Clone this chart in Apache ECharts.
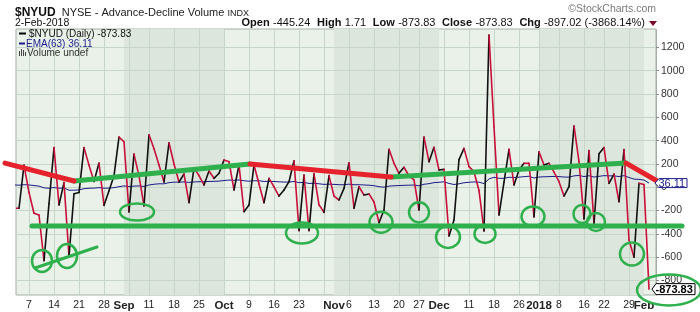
<!DOCTYPE html>
<html>
<head>
<meta charset="utf-8">
<script src="https://cdn.jsdelivr.net/npm/echarts@6/dist/echarts.min.js"></script>
<style>
html,body{margin:0;padding:0;background:#ffffff;}
#chart{width:700px;height:312px;}
</style>
</head>
<body>
<div id="chart"></div>
<script>
// ---------- data (index 0 = 2-Aug-2017, one entry per trading day, last = 2-Feb-2018) ----------
const nyud = [
  -180,-180,190,-45,-223,-238,-630,-140,340,-152,
  40,-590,-55,-45,340,190,50,208,-155,-30,
  100,431,391,-212,285,98,-160,450,330,191,
  45,382,200,45,114,-132,165,100,20,140,
  77,120,234,220,-23,191,-209,-152,191,28,
  -132,77,3,-75,-23,48,228,-372,105,-372,
  115,-150,-215,100,-75,-109,-9,211,-180,5,
  -66,-57,-126,-304,-195,326,206,120,172,97,
  63,-195,431,220,343,148,154,-418,-280,238,
  334,177,134,-27,-375,1306,520,-238,45,326,
  20,148,206,206,-255,305,191,206,131,48,
  -75,5,526,220,-272,316,-309,288,341,34,
  114,-124,324,-452,-600,34,23.19,-873.83
];
const ema63 = [
  20,18,22,20,15,10,-5,-8,-2,-8,
  -6,-25,-25,-22,-12,-8,-7,-3,-8,-7,
  -3,5,12,6,10,12,7,20,26,30,
  30,40,44,44,46,42,46,48,48,50,
  51,53,58,62,60,63,56,52,56,56,
  50,51,50,47,45,45,50,40,42,33,
  35,30,25,27,25,22,22,27,22,22,
  20,18,14,5,1,10,13,15,17,18,
  19,13,26,31,40,43,47,33,24,30,
  39,43,46,44,32,72,86,77,77,86,
  84,87,91,95,80,88,90,92,93,92,
  88,87,98,102,92,99,88,94,100,98,
  98,92,100,84,70,68,62,36.11
];
// week labels (first trading day of each week) and month labels (first trading day of month)
const weekLabelIdx  = [3,8,13,18,27,32,37,47,52,57,67,72,77,81,91,96,101,109,114,118,123];
const weekLabelText = ['7','14','21','28','11','18','25','9','16','23','6','13','20','27','11','18','26','8','16','22','29'];
const monthLabelIdx  = [22,42,64,85,105,126];
const monthLabelText = ['Sep','Oct','Nov','Dec','2018','Feb'];
const weekStartIdx = [3,8,13,18,23,27,32,37,42,47,52,57,62,67,72,77,81,86,91,96,101,105,109,114,118,123];
const yTickValues = [-800,-600,-400,-200,0,200,400,600,800,1000,1200];
const shadedMonthRanges = [[22,42],[64,85],[105,126]];
// hand-drawn annotations, in data space: [x1, y1, x2, y2]
const redTrendLines   = [[-1.8,208,12,54],[47.2,200,75.4,88],[122.4,208,128.8,50]];
const greenTrendLines = [[12,54,47.2,200],[75.4,88,122.4,208],[3.6,-332,133.6,-332]];
const greenThinLines  = [[4.2,-692,16.6,-512]];
// circled lows: [cx, cy, rx (days), ry (value units)]
const circledLows = [
  [5.6,-632,2.0,94],[10.6,-590,2.0,103],[24.6,-212,3.4,73],[57.6,-392,3.2,90],
  [73.4,-300,2.3,90],[81,-215,2.0,86],[86.8,-426,2.4,94],[94.2,-400,2.1,77],
  [103.8,-250,2.3,86],[113.6,-229,1.7,77],[116.4,-298,1.8,77],[123.6,-572,2.4,99],
  [131,-881,6.4,133]
];

// ---------- styles ----------
const FONT = 'Liberation Sans, Arial, sans-serif';
const UP = '#111111', DOWN = '#c8103a', EMA_C = '#1c1c8a';
const GREEN = '#2eb04c', RED = '#e6232d';
const GRID_C = '#c6d6c6';

const chart = echarts.init(document.getElementById('chart'), null, {renderer:'canvas'});

const segData = nyud.slice(0, -1).map((v, i) => [i, v, nyud[i + 1]]);
const lastClose = nyud[nyud.length - 1];
const lastEma = ema63[ema63.length - 1];

function lineRender(color, width) {
  return function (params, api) {
    const p0 = api.coord([api.value(0), api.value(1)]);
    const p1 = api.coord([api.value(2), api.value(3)]);
    return {type:'line', shape:{x1:p0[0], y1:p0[1], x2:p1[0], y2:p1[1]},
      style:{stroke:color, lineWidth:width, lineCap:'round'}};
  };
}
function labelFrom(idxArr, textArr) {
  return function (v) {
    const k = idxArr.indexOf(Math.round(v));
    return k < 0 ? '' : textArr[k];
  };
}

const option = {
  animation: false,
  grid: {left:16, right:44, top:29, bottom:17, show:true, backgroundColor:'#e9f1e9',
         borderColor:'#a3afa3', borderWidth:1},
  xAxis: [{
    type:'value', min:0.4, max:128.4, z:3, position:'bottom',
    axisLine:{show:false},
    axisTick:{show:false, customValues:weekStartIdx},
    axisLabel:{
      customValues:weekLabelIdx, margin:5, color:'#222', fontSize:10.5, fontFamily:FONT,
      showMinLabel:true, showMaxLabel:true,
      formatter: labelFrom(weekLabelIdx, weekLabelText)
    },
    splitLine:{show:true, lineStyle:{color:GRID_C, width:1}}
  }, {
    type:'value', min:0.4, max:128.4, z:3, position:'bottom', offset:0,
    axisLine:{show:false},
    axisTick:{show:false},
    axisLabel:{
      customValues:monthLabelIdx, margin:5, color:'#222', fontSize:11.5, fontWeight:'bold', fontFamily:FONT,
      showMinLabel:true, showMaxLabel:true,
      formatter: labelFrom(monthLabelIdx, monthLabelText)
    },
    splitLine:{show:false}
  }],
  yAxis: {
    type:'value', position:'right', min:-924, max:1358, z:3,
    axisLine:{show:true, lineStyle:{color:'#9aa69a', type:'dotted'}},
    axisTick:{show:true, customValues:yTickValues, length:3, lineStyle:{color:'#888'}},
    axisLabel:{customValues:yTickValues, margin:5, color:'#333', fontSize:10.5, fontFamily:FONT,
      formatter: function (v) { return String(Math.round(v)); }},
    splitLine:{show:true, lineStyle:{color:GRID_C, width:1}}
  },
  series: [
    { // alternate month shading
      type:'custom', z:1, clip:true, silent:true,
      data: shadedMonthRanges,
      renderItem: function (params, api) {
        const cs = params.coordSys;
        const a = api.coord([api.value(0), 0])[0];
        const b = api.coord([api.value(1), 0])[0];
        return {type:'rect', shape:{x:a, y:cs.y, width:b - a, height:cs.height},
          style:{fill:'#dce6dc'}};
      }
    },
    { // EMA(63)
      type:'line', z:4, data: ema63.map((v, i) => [i, v]), showSymbol:false, symbol:'none',
      lineStyle:{color:EMA_C, width:1}, clip:true, silent:true
    },
    { // color-coded daily line
      type:'custom', z:5, clip:true, silent:true, data: segData,
      renderItem: function (params, api) {
        const i = api.value(0), a = api.value(1), b = api.value(2);
        const p0 = api.coord([i, a]), p1 = api.coord([i + 1, b]);
        return {type:'line', shape:{x1:p0[0], y1:p0[1], x2:p1[0], y2:p1[1]},
          style:{stroke: b > a ? UP : DOWN, lineWidth:1.6, lineCap:'round'}};
      }
    },
    {type:'custom', z:6, clip:false, silent:true, data:greenTrendLines, renderItem:lineRender(GREEN, 5)},
    {type:'custom', z:6, clip:false, silent:true, data:redTrendLines, renderItem:lineRender(RED, 5)},
    {type:'custom', z:6, clip:false, silent:true, data:greenThinLines, renderItem:lineRender(GREEN, 3)},
    { // value tags on the right axis
      type:'custom', z:7, clip:false, silent:true,
      data: [[lastEma, 0], [lastClose, 1]],
      renderItem: function (params, api) {
        const cs = params.coordSys;
        const v = api.value(0), kind = api.value(1);
        const y = api.coord([64, v])[1];
        const x0 = cs.x + cs.width - (kind === 1 ? 4 : 1);
        const w = kind === 1 ? 43 : 32, h = kind === 1 ? 11 : 9;
        const col = kind === 1 ? '#000' : EMA_C;
        const txt = v.toFixed(2);
        return {type:'group', children:[
          {type:'polygon', shape:{points:[[x0, y],[x0 + 4, y - h/2],[x0 + w, y - h/2],[x0 + w, y + h/2],[x0 + 4, y + h/2]]},
           style:{fill:'#ffffff', stroke:col, lineWidth:1}},
          {type:'text', style:{text:txt, x:x0 + 3.5, y:y + 0.5, verticalAlign:'middle', align:'left',
           fill:col, fontSize:11, fontFamily:FONT, fontWeight: kind === 1 ? 'bold' : 'normal'}}
        ]};
      }
    },
    { // circled lows
      type:'custom', z:8, clip:false, silent:true, data:circledLows,
      renderItem: function (params, api) {
        const c = api.coord([api.value(0), api.value(1)]);
        const s = api.size([api.value(2), api.value(3)]);
        return {type:'ellipse', shape:{cx:c[0], cy:c[1], rx:s[0], ry:s[1]},
          style:{fill:null, stroke:GREEN, lineWidth:2.5}};
      }
    }
  ],
  graphic: [
    {type:'text', x:15, y:11.5, style:{
      text:'{a|$NYUD}{b| NYSE - Advance-Decline Volume }{c|INDX}', verticalAlign:'middle', align:'left',
      rich:{
        a:{fontSize:12, fontWeight:'bold', fontFamily:FONT, fill:'#111', verticalAlign:'bottom', lineHeight:14, padding:[0,3,0,0]},
        b:{fontSize:11, fontFamily:FONT, fill:'#222', verticalAlign:'bottom', lineHeight:14},
        c:{fontSize:9, fontFamily:FONT, fill:'#222', verticalAlign:'bottom', lineHeight:14}
      }}},
    {type:'text', x:15, y:23, style:{text:'2-Feb-2018', fontSize:10.5, fontFamily:FONT, fill:'#111',
      verticalAlign:'middle', align:'left'}},
    {type:'text', x:645, y:23, style:{
      text:'{l|Open} {v|-445.24}  {l|High} {v|1.71}  {l|Low} {v|-873.83}  {l|Close} {v|-873.83}  {l|Chg} {v|-897.02 (-3868.14%)}',
      align:'right', verticalAlign:'middle',
      rich:{
        l:{fontSize:11, fontWeight:'bold', fontFamily:FONT, fill:'#111'},
        v:{fontSize:11, fontFamily:FONT, fill:'#111'}
      }}},
    {type:'polygon', shape:{points:[[649,21],[657,21],[653,26]]}, style:{fill:'#7a0a2a'}},
    {type:'text', x:656, y:9, style:{text:'\u00A9StockCharts.com', fontSize:10.5, fontFamily:FONT,
      fill:'#7a7a7a', align:'right', verticalAlign:'middle'}},
    // legend
    {type:'rect', shape:{x:19, y:32.5, width:7, height:2}, style:{fill:'#000'}, z:10},
    {type:'text', x:29, y:34, z:10, style:{text:'$NYUD (Daily) -873.83', fontSize:10, fontFamily:FONT, fill:'#111',
      verticalAlign:'middle', align:'left'}},
    {type:'rect', shape:{x:19, y:42.5, width:6, height:2}, style:{fill:EMA_C}, z:10},
    {type:'text', x:26, y:44, z:10, style:{text:'EMA(63) 36.11', fontSize:10, fontFamily:FONT, fill:EMA_C,
      verticalAlign:'middle', align:'left'}},
    {type:'rect', shape:{x:19, y:51, width:1, height:5}, style:{fill:'#444'}, z:10},
    {type:'rect', shape:{x:21, y:49, width:1, height:7}, style:{fill:'#444'}, z:10},
    {type:'rect', shape:{x:23, y:50, width:1, height:6}, style:{fill:'#444'}, z:10},
    {type:'rect', shape:{x:25, y:52, width:1, height:4}, style:{fill:'#444'}, z:10},
    {type:'text', x:27, y:53.5, z:10, style:{text:'Volume undef', fontSize:10, fontFamily:FONT, fill:'#333',
      verticalAlign:'middle', align:'left'}}
  ]
};
chart.setOption(option);
</script>
</body>
</html>
